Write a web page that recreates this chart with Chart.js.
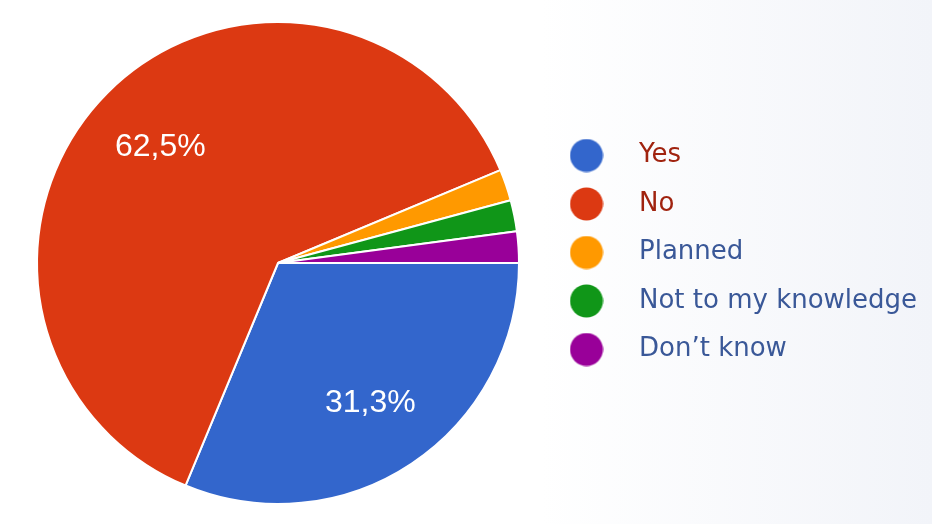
<!DOCTYPE html>
<html>
<head>
<meta charset="utf-8">
<script src="https://cdn.jsdelivr.net/npm/chart.js@4.4.0/dist/chart.umd.min.js"></script>
<style>
  html, body { margin: 0; padding: 0; width: 932px; height: 524px; overflow: hidden;
    background: linear-gradient(to right, #ffffff 0%, #ffffff 58%, #f2f4f9 100%); }
  #wrap { position: relative; width: 932px; height: 524px; }
</style>
</head>
<body>
<div id="wrap"><canvas id="c" width="932" height="524"></canvas></div>
<script>
// ---- data ----
const categories = ['Yes', 'No', 'Planned', 'Not to my knowledge', 'Don\u2019t know'];
const percentages = [31.3, 62.5, 2.1, 2.1, 2.1];
const sliceColors = ['#3366cc', '#dc3912', '#ff9900', '#109618', '#990099'];
const legendTextColors = ['#a0230f', '#a0230f', '#3a5898', '#3a5898', '#3a5898'];

const legendFont = { family: '"DejaVu Sans", Verdana, sans-serif', size: 26 };
const legendPad = 22.5, dotSlot = 79;

function circleImage(color, d) {
  const c = document.createElement('canvas');
  c.width = d + 1; c.height = d + 1;
  const g = c.getContext('2d');
  g.fillStyle = color;
  g.beginPath();
  g.arc((d + 1) / 2, (d + 1) / 2, d / 2, 0, Math.PI * 2);
  g.fill();
  return c;
}
const legendDots = sliceColors.map(col => circleImage(col, 33));

// legend width as Chart.js will compute it, so the pie area can be placed
const mctx = document.createElement('canvas').getContext('2d');
mctx.font = legendFont.size + 'px ' + legendFont.family;
const maxText = Math.max(...categories.map(t => mctx.measureText(t).width));
const legendW = legendPad + dotSlot + legendFont.size / 2 + maxText + 10;
const rightPad = 407.5 - legendW;

const sliceLabels = {
  id: 'sliceLabels',
  afterDatasetsDraw(chart) {
    const ctx = chart.ctx;
    const meta = chart.getDatasetMeta(0);
    const data = chart.data.datasets[0].data;
    ctx.save();
    ctx.font = '32px "Liberation Sans", Arial, sans-serif';
    ctx.fillStyle = '#ffffff';
    ctx.textAlign = 'center';
    ctx.textBaseline = 'middle';
    meta.data.forEach((arc, i) => {
      if (data[i] < 10) return;
      const p = arc.getProps(['x', 'y', 'startAngle', 'endAngle', 'outerRadius'], true);
      const mid = (p.startAngle + p.endAngle) / 2;
      const r = p.outerRadius * 0.69;
      const txt = data[i].toFixed(1).replace('.', ',') + '%';
      ctx.fillText(txt, p.x + Math.cos(mid) * r, p.y + Math.sin(mid) * r + 2);
    });
    ctx.restore();
  }
};

new Chart(document.getElementById('c'), {
  type: 'pie',
  data: {
    labels: categories,
    datasets: [{
      data: percentages,
      backgroundColor: sliceColors,
      borderColor: '#ffffff',
      borderWidth: 2
    }]
  },
  options: {
    responsive: false,
    animation: false,
    rotation: 90,
    radius: 241,
    layout: { padding: { left: 31.5, right: rightPad, top: 23, bottom: 21 } },
    plugins: {
      tooltip: { enabled: false },
      legend: {
        position: 'right',
        align: 'start',
        title: { display: true, text: ' ', padding: { top: 0, bottom: 85 }, font: { size: 12, lineHeight: 1 } },
        labels: {
          usePointStyle: true,
          pointStyleWidth: dotSlot,
          padding: legendPad,
          font: legendFont,
          generateLabels(chart) {
            return chart.data.labels.map((t, i) => ({
              text: t,
              fillStyle: sliceColors[i],
              strokeStyle: sliceColors[i],
              lineWidth: 0,
              pointStyle: legendDots[i],
              fontColor: legendTextColors[i],
              hidden: false,
              index: i
            }));
          }
        }
      }
    }
  },
  plugins: [sliceLabels]
});
</script>
</body>
</html>
